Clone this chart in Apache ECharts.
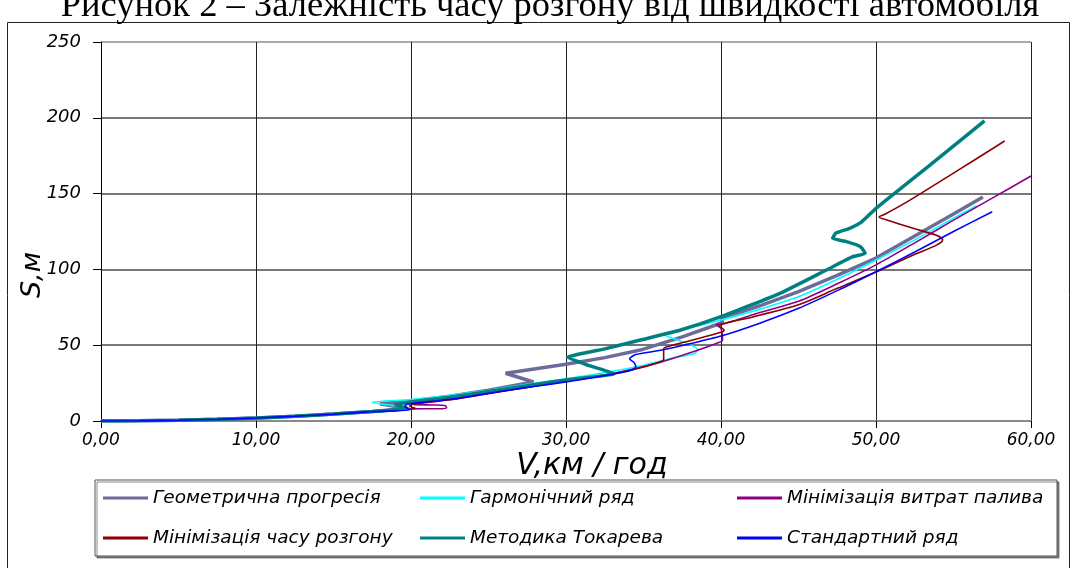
<!DOCTYPE html>
<html>
<head>
<meta charset="utf-8">
<script src="https://cdn.jsdelivr.net/npm/echarts@6/dist/echarts.min.js"></script>
<style>
html,body{margin:0;padding:0;background:#fff;}
#chart{width:1073px;height:568px;}
</style>
</head>
<body>
<div id="chart"></div>
<script>
// ---- data ----
const xTicks = [0, 10, 20, 30, 40, 50, 60];
const yTicks = [0, 50, 100, 150, 200, 250];

const seriesNames = [
  'Геометрична прогресія',
  'Гармонічний ряд',
  'Мінімізація витрат палива',
  'Мінімізація часу розгону',
  'Методика Токарева',
  'Стандартний ряд'
];

const geomV = [0,2.5,5,7.5,10,12.5,15,17.5,19.8,18.0,20,22.5,25,27.9,26.1,30,32.5,34.8,37.5,39.7,40.1,40,42.5,45,47.5,50,52.5,55,56.9];
const geomS = [0,0.1,0.5,1.1,2.0,3.1,4.6,6.3,8.2,11.4,13.2,16.3,20.3,25.7,31.5,37.4,41.8,46.8,55.5,63.5,65,67.5,76,85.3,96,107.5,122,136.5,147.8];

const harmV = [0,2.5,5,7.5,10,12.5,15,17.5,20.0,17.5,20,22.5,25,27.5,30,33,35,37,38.3,38.5,38.1,37.2,36.4,36.9,38.2,40,42.5,45,47.5,50,52.5,55,56.5];
const harmS = [0,0.1,0.5,1.1,2.0,3.1,4.6,6.3,8.3,12.4,14.2,17.0,20.3,24.2,27.8,32.8,36.8,41.8,44.5,47,50,53.5,56.5,58.8,62,66.6,73.8,82,93.5,106.2,119.5,133.8,142];

const fuelV = [0,2.5,5,7.5,10,12.5,15,17.5,19.9,21.8,22.3,22.2,21.5,20.3,20.1,22.5,25,27.5,30,33,36,38,39.9,40.1,40.0,39.7,40.3,42.5,45,47.5,50,52.5,55,57.5,60];
const fuelS = [0,0.1,0.5,1.1,2.0,3.1,4.5,6.2,8.0,8.1,8.8,10.2,10.6,10.7,11.5,14.0,18.0,22.2,26.2,31.2,38.5,45,52,53.5,61,63.5,64.5,71.5,79,90.5,103,117.5,132.5,147,161.6];

const timeV = [0,2.5,5,7.5,10,12.5,15,17.5,20.3,19.9,20.5,22.5,25,27.5,30,33,34.5,36.0,36.3,36.3,36.6,38,40,40.2,39.9,42,45,47.5,50.3,52.4,53.9,54.3,53.9,52.4,50.7,50.2,50.6,52,55,58.3];
const timeS = [0,0.1,0.5,1.1,2.0,3.1,4.5,6.2,8.2,10.0,11.5,14.0,18.3,22.3,26.3,31.3,34.3,38.8,40.5,47.5,49.2,53,58.5,60,62.5,68.5,76.7,87.5,99.6,109.5,116,119.4,122.5,127.1,132.6,134.6,136.5,144.5,163.5,184.7];

const tokV = [0,2.5,5,7.5,10,12.5,15,17.5,19.8,19.0,19.6,20.5,22.5,25,27.5,30,33.1,31.5,30.1,32.5,34.8,37.4,40,43.8,46.8,48.5,49.3,49.0,48.1,47.2,47.4,48.3,49.1,50,53.5,57];
const tokS = [0,0.1,0.5,1.1,2.0,3.1,4.6,6.3,8.2,10.8,11.9,13.2,15.6,19.4,23.2,27.1,31.2,36.5,42,47.6,53.4,60,68.8,84.2,99.6,108.4,110.6,115,118.3,120.5,123.8,127.1,131.5,140.3,169,197.9];

const stdV = [0,2.5,5,7.5,10,12.5,15,17.5,19.9,19.6,19.8,22.5,25,27.5,30,33.7,34.5,34.4,34.1,34.5,36,38,40,42.5,45,47.5,50,52.5,55,57.5];
const stdS = [0,0.1,0.5,1.1,2.0,3.1,4.5,6.2,7.4,9.9,11.2,14.3,18.3,22.2,25.8,32.2,35.5,38.5,41,43.8,46.5,51,56,64.5,74.3,86,98.5,111.5,125,138];

// ---- chart ----
const zip = (a, b) => a.map((v, i) => [v, b[i]]);
const seriesData = [
  zip(geomV, geomS), zip(harmV, harmS), zip(fuelV, fuelS),
  zip(timeV, timeS), zip(tokV, tokS), zip(stdV, stdS)
];
const colors = ['#6b6b9c', '#00ffff', '#8b008b', '#8b0000', '#008080', '#0000ff'];
const widths = [3.5, 1.6, 1.6, 1.6, 3.5, 1.6];
const smooths = [false, 0.25, 0.25, 0.3, 0.15, 0.25];

const labelFont = { fontFamily: 'DejaVu Sans', fontStyle: 'italic', fontSize: 17, color: '#000' };
const fmt = v => v.toFixed(2).replace('.', ',');

const chart = echarts.init(document.getElementById('chart'), null, { renderer: 'canvas' });
chart.setOption({
  animation: false,
  backgroundColor: '#fff',
  grid: { left: 101, right: 42, top: 42, bottom: 147, containLabel: false },
  xAxis: {
    type: 'value', min: xTicks[0], max: xTicks[xTicks.length - 1], interval: 10,
    axisLine: { show: true, onZero: false, lineStyle: { color: '#8a8a8a', width: 2 } },
    axisTick: { show: true, length: 7, lineStyle: { color: '#000' } },
    splitLine: { show: true, lineStyle: { color: '#222', width: 1 } },
    axisLabel: Object.assign({ margin: 11, formatter: fmt }, labelFont)
  },
  yAxis: {
    type: 'value', min: yTicks[0], max: yTicks[yTicks.length - 1], interval: 50,
    axisLine: { show: true, lineStyle: { color: '#000', width: 1 } },
    axisTick: { show: true, length: 8, lineStyle: { color: '#000' } },
    splitLine: { show: true, lineStyle: { color: ['#777', '#777', '#777', '#777', '#777', '#aaa'], width: 2 } },
    axisLabel: Object.assign({ margin: 20 }, labelFont, { fontSize: 18 })
  },
  legend: {
    left: 95, top: 480,
    width: 945,
    orient: 'horizontal',
    padding: [3, 13, 3, 8],
    itemGap: 10,
    itemWidth: 45, itemHeight: 3,
    icon: 'rect',
    borderColor: '#555', borderWidth: 1,
    backgroundColor: '#fff',
    shadowColor: 'rgba(0,0,0,0.45)', shadowOffsetX: 2, shadowOffsetY: 2, shadowBlur: 0,
    textStyle: { fontFamily: 'DejaVu Sans', fontStyle: 'italic', fontSize: 18.5, color: '#000', width: 257, lineHeight: 30 },
    data: seriesNames
  },
  graphic: [
    { type: 'rect', silent: true, z: -10,
      shape: { x: 7.5, y: 22.5, width: 1062, height: 580 },
      style: { fill: 'none', stroke: '#222', lineWidth: 1 } },
    { type: 'text', silent: true,
      style: { text: 'Рисунок 2 – Залежність часу розгону від швидкості автомобіля',
        x: 550, y: 6, align: 'center', verticalAlign: 'middle',
        font: '36.5px "Liberation Serif"', fill: '#000' } },
    { type: 'text', silent: true,
      style: { text: 'V,км / год', x: 592, y: 466, align: 'center', verticalAlign: 'middle',
        font: 'italic 30px "DejaVu Sans"', fill: '#000' } },
    { type: 'text', silent: true, x: 33, y: 275, rotation: Math.PI / 2,
      style: { text: 'S,м', x: 0, y: 0, align: 'center', verticalAlign: 'middle',
        font: 'italic 27px "DejaVu Sans"', fill: '#000' } }
  ],
  series: seriesNames.map((n, i) => ({
    name: n, type: 'line', data: seriesData[i],
    showSymbol: false, symbol: 'none', smooth: smooths[i],
    color: colors[i],
    lineStyle: { color: colors[i], width: widths[i] },
    z: 2 + i
  }))
});
</script>
</body>
</html>
